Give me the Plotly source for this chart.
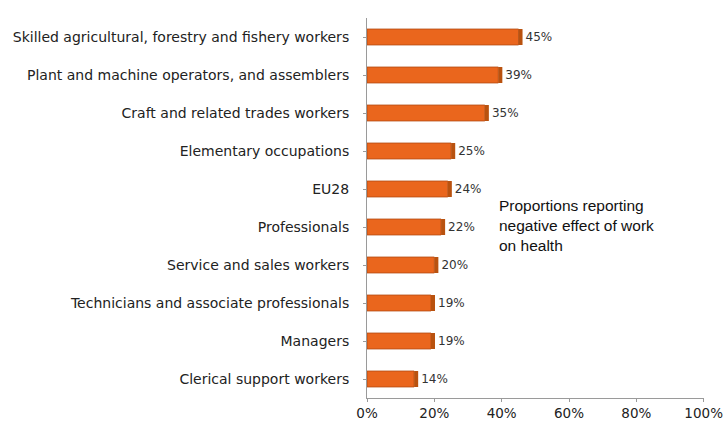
import plotly.graph_objects as go

categories = [
    "Skilled agricultural, forestry and fishery workers",
    "Plant and machine operators, and assemblers",
    "Craft and related trades workers",
    "Elementary occupations",
    "EU28",
    "Professionals",
    "Service and sales workers",
    "Technicians and associate professionals",
    "Managers",
    "Clerical support workers",
]
values = [0.45, 0.39, 0.35, 0.25, 0.24, 0.22, 0.20, 0.19, 0.19, 0.14]
labels = ["45%", "39%", "35%", "25%", "24%", "22%", "20%", "19%", "19%", "14%"]
cap_size = [0.012] * len(values)
x_ticks = [0, 0.2, 0.4, 0.6, 0.8, 1.0]
x_ticklabels = ["0%", "20%", "40%", "60%", "80%", "100%"]

fig = go.Figure()
fig.add_trace(go.Bar(
    y=categories,
    x=values,
    orientation="h",
    width=0.42,
    marker=dict(color="#EA661D", line=dict(color="#B24A12", width=0.8)),
    hoverinfo="skip",
))
fig.add_trace(go.Bar(
    y=categories,
    x=cap_size,
    base=values,
    orientation="h",
    width=0.42,
    marker=dict(color="#B9520F", line=dict(width=0)),
    text=labels,
    textposition="outside",
    textfont=dict(family="DejaVu Sans", size=12, color="#333333"),
    cliponaxis=False,
    hoverinfo="skip",
))

fig.update_layout(
    width=725, height=425,
    margin=dict(l=367, r=21, t=18, b=27, autoexpand=False),
    paper_bgcolor="white",
    plot_bgcolor="white",
    showlegend=False,
    barmode="overlay",
    font=dict(family="DejaVu Sans", size=14, color="#222222"),
    xaxis=dict(
        range=[0, 1.001],
        tickvals=x_ticks,
        ticktext=x_ticklabels,
        ticklabeloverflow="allow",
        automargin=False,
        showgrid=False,
        zeroline=False,
        showline=True,
        linecolor="#9a9a9a",
        linewidth=1,
        ticks="outside",
        ticklen=3,
        tickcolor="#9a9a9a",
        tickfont=dict(family="DejaVu Sans", size=13.5, color="#222222"),
        fixedrange=True,
    ),
    yaxis=dict(
        autorange="reversed",
        automargin=False,
        showgrid=False,
        showline=True,
        linecolor="#9a9a9a",
        linewidth=1,
        ticks="outside",
        ticklen=3,
        tickcolor="#9a9a9a",
        ticklabelstandoff=11,
        tickfont=dict(family="DejaVu Sans", size=14, color="#222222"),
        fixedrange=True,
    ),
    annotations=[dict(
        x=0.385, y=0.455, xref="paper", yref="paper",
        text="Proportions reporting<br>negative effect of work<br>on health",
        showarrow=False, xanchor="left", yanchor="middle", align="left",
        font=dict(family="Liberation Sans", size=15.5, color="#111111"),
    )],
)

fig.write_html("out.html")
